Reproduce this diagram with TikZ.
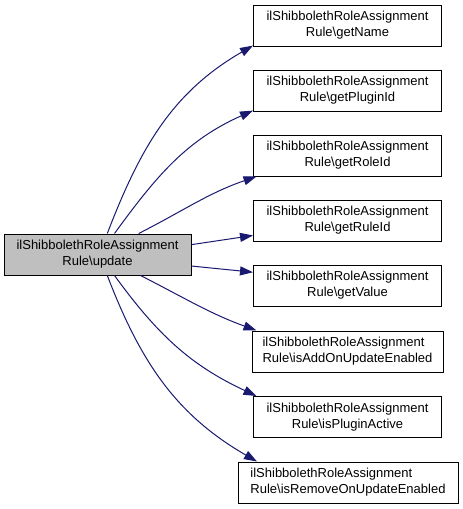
\documentclass[tikz,border=0pt]{standalone}
\usepackage{fontspec}
\setmainfont{Liberation Sans}
\usepackage{tikz}
\usetikzlibrary{arrows.meta}
\definecolor{edgeblue}{RGB}{25,25,112}

\begin{document}
\begin{tikzpicture}[x=1pt, y=1pt,
    fn/.style={draw=black, line width=1pt, fill=white, align=center,
        minimum width=188pt, minimum height=41pt, inner xsep=4pt,
        font=\fontsize{13}{16}\selectfont},
    calls/.style={draw=edgeblue, line width=1pt,
        -{Triangle[length=13pt, width=9pt]}}]
    \useasboundingbox (0,0) rectangle (463,-509);

    \node[fn, fill={rgb,255:red,191;green,191;blue,191}, minimum width=187pt] (update) at (97.5,-254.5)
        {ilShibbolethRoleAssignment\\Rule\textbackslash update};

    \node[fn] (name) at (347.5,-25.5) {ilShibbolethRoleAssignment\\Rule\textbackslash getName};
    \node[fn] (plugin) at (347.5,-90.5) {ilShibbolethRoleAssignment\\Rule\textbackslash getPluginId};
    \node[fn] (role) at (347.5,-155.5) {ilShibbolethRoleAssignment\\Rule\textbackslash getRoleId};
    \node[fn] (rule) at (347.5,-220.5) {ilShibbolethRoleAssignment\\Rule\textbackslash getRuleId};
    \node[fn] (value) at (347.5,-285.5) {ilShibbolethRoleAssignment\\Rule\textbackslash getValue};
    \node[fn, align=left, minimum width=191pt] (addon) at (347.5,-351.5)
        {ilShibbolethRoleAssignment\\Rule\textbackslash isAddOnUpdateEnabled};
    \node[fn] (active) at (347.5,-417) {ilShibbolethRoleAssignment\\Rule\textbackslash isPluginActive};
    \node[fn, align=left, minimum width=220pt] (remove) at (348,-482.5)
        {ilShibbolethRoleAssignment\\Rule\textbackslash isRemoveOnUpdateEnabled};

    \draw[calls] (update.65) to[out=69, in=210] (name.192.7);
    \draw[calls] (update.51) to[out=54, in=204] (plugin.192.9);
    \draw[calls] (update.27.4) to[out=27, in=199] (role.193.6);
    \draw[calls] (update.6.4) -- (rule.189.4);
    \draw[calls] (update.-7.6) -- (value.172.4);
    \draw[calls] (update.-26.8) to[out=-27, in=160] (addon.167.4);
    \draw[calls] (update.-51) to[out=-54, in=155] (active.167.5);
    \draw[calls] (update.-65) to[out=-69, in=150] (remove.167.6);
\end{tikzpicture}
\end{document}
